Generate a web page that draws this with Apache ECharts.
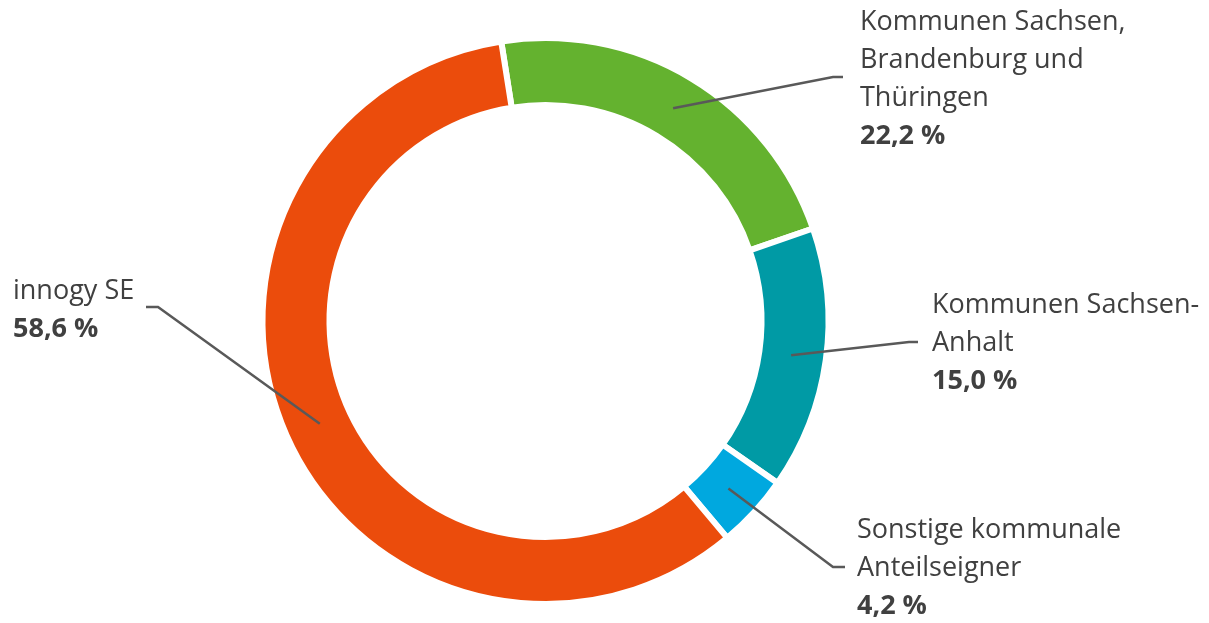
<!DOCTYPE html>
<html lang="de">
<head>
    <meta charset="UTF-8">
    <title>Anteilseigner</title>
    <script src="https://cdn.jsdelivr.net/npm/echarts@6/dist/echarts.min.js"></script>
    <style>
        html, body { margin: 0; padding: 0; background: #fff; }
        #chart { width: 1209px; height: 623px; }
    </style>
</head>
<body>
<div id="chart"></div>
<script>
    // Daten
    var names = ['Kommunen Sachsen,\nBrandenburg und\nThüringen', 'Kommunen Sachsen-\nAnhalt', 'Sonstige kommunale\nAnteilseigner', 'innogy SE'];
    var values = [22.2, 15.0, 4.2, 58.6];
    var colors = ['#64b22f', '#009aa5', '#00a8df', '#eb4c0c'];

    // Position der Beschriftungen (Textblock oben links, Knick der Linie)
    var labelBox = [
        { x: 860, y: 3, elbow: [833, 77], end: [843, 77] },
        { x: 932, y: 286, elbow: [909, 342], end: [918, 342] },
        { x: 857, y: 511, elbow: [833, 567], end: [845, 567] },
        { x: 13, y: 272, elbow: [158, 307], end: [146, 307] }
    ];

    var cx = 545.5, cy = 321, startAngle = 99;
    var total = values.reduce(function (a, b) { return a + b; }, 0);

    // Startpunkt der Linie in der Mitte des Rings
    function lineStart(i) {
        var before = 0;
        for (var k = 0; k < i; k++) before += values[k];
        var mid = startAngle - (before + values[i] / 2) / total * 360;
        var rad = mid * Math.PI / 180;
        return [cx + 248 * Math.cos(rad), cy - 248 * Math.sin(rad)];
    }

    var chart = echarts.init(document.getElementById('chart'));
    chart.setOption({
        animation: false,
        series: [{
            // Ring
            type: 'pie',
            z: 2,
            center: [cx, cy],
            radius: [216, 283],
            startAngle: startAngle,
            silent: true,
            itemStyle: { borderColor: '#fff', borderWidth: 6 },
            label: { show: false },
            labelLine: { show: false },
            data: names.map(function (n, i) {
                return { name: n, value: values[i], itemStyle: { color: colors[i] } };
            })
        }, {
            // Beschriftungen mit Linien über dem Ring
            type: 'pie',
            z: 5,
            center: [cx, cy],
            radius: [216, 283],
            startAngle: startAngle,
            silent: true,
            itemStyle: { color: 'rgba(0,0,0,0)', borderWidth: 0 },
            label: {
                show: true,
                formatter: function (p) {
                    return '{n|' + p.name.split('\n').join('}\n{n|') + '}\n{v|' + p.value.toFixed(1).replace('.', ',') + ' %}';
                },
                rich: {
                    n: { fontFamily: 'Open Sans', fontSize: 27, color: '#404040', lineHeight: 38 },
                    v: { fontFamily: 'Open Sans', fontSize: 27, fontWeight: 'bold', color: '#404040', lineHeight: 38 }
                }
            },
            labelLine: { show: true, lineStyle: { color: '#595959', width: 2.5 } },
            labelLayout: function (params) {
                var b = labelBox[params.dataIndex];
                return {
                    x: b.x,
                    y: b.y,
                    align: 'left',
                    verticalAlign: 'top',
                    labelLinePoints: [lineStart(params.dataIndex), b.elbow, b.end]
                };
            },
            data: names.map(function (n, i) {
                return { name: n, value: values[i] };
            })
        }]
    });
</script>
</body>
</html>
